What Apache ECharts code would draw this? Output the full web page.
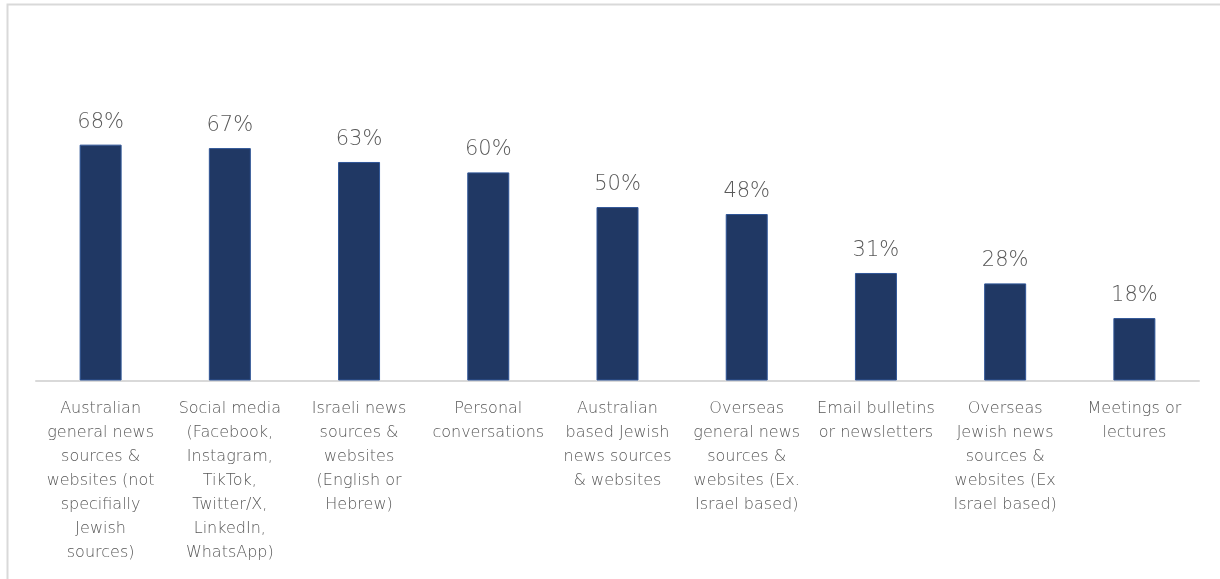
<!DOCTYPE html>
<html>
<head>
<meta charset="utf-8">
<script src="https://cdn.jsdelivr.net/npm/echarts@6/dist/echarts.min.js"></script>
<style>
  html, body { margin: 0; padding: 0; background: #fff; }
  #chart { width: 1220px; height: 579px; }
</style>
</head>
<body>
<div id="chart"></div>
<script>
// News sources used, share of respondents (%)
const categories = [
  'Australian\ngeneral news\nsources &\nwebsites (not\nspecifially\nJewish\nsources)',
  'Social media\n(Facebook,\nInstagram,\nTikTok,\nTwitter/X,\nLinkedIn,\nWhatsApp)',
  'Israeli news\nsources &\nwebsites\n(English or\nHebrew)',
  'Personal\nconversations',
  'Australian\nbased Jewish\nnews sources\n& websites',
  'Overseas\ngeneral news\nsources &\nwebsites (Ex.\nIsrael based)',
  'Email bulletins\nor newsletters',
  'Overseas\nJewish news\nsources &\nwebsites (Ex\nIsrael based)',
  'Meetings or\nlectures'
];
const shares = [68, 67, 63, 60, 50, 48, 31, 28, 18];

const chart = echarts.init(document.getElementById('chart'), null, { renderer: 'canvas' });
const fontFamily = '"DejaVu Sans", sans-serif';

chart.setOption({
  animation: false,
  backgroundColor: '#ffffff',
  graphic: [
    {
      type: 'rect',
      shape: { x: 7.5, y: 4.5, width: 1300, height: 700 },
      style: { fill: 'none', stroke: '#d9d9d9', lineWidth: 2 },
      silent: true
    }
  ],
  grid: { left: 36, right: 21, top: 103, bottom: 198.5, containLabel: false },
  xAxis: {
    type: 'category',
    data: categories,
    axisLine: { show: true, lineStyle: { color: '#d9d9d9', width: 2 } },
    axisTick: { show: false },
    axisLabel: {
      interval: 0,
      color: '#595959',
      fontFamily: fontFamily,
      fontWeight: 200,
      fontSize: 16,
      lineHeight: 24,
      margin: 16,
      align: 'center'
    }
  },
  yAxis: {
    type: 'value',
    min: 0,
    max: 80,
    show: false,
    splitLine: { show: false }
  },
  series: [
    {
      type: 'bar',
      data: shares,
      barWidth: 42,
      itemStyle: { color: '#203864', borderColor: '#2f5597', borderWidth: 1 },
      label: {
        show: true,
        position: 'top',
        distance: 12,
        formatter: p => p.value + '%',
        color: '#595959',
        fontFamily: fontFamily,
        fontWeight: 200,
        fontSize: 21
      }
    }
  ]
});
</script>
</body>
</html>
